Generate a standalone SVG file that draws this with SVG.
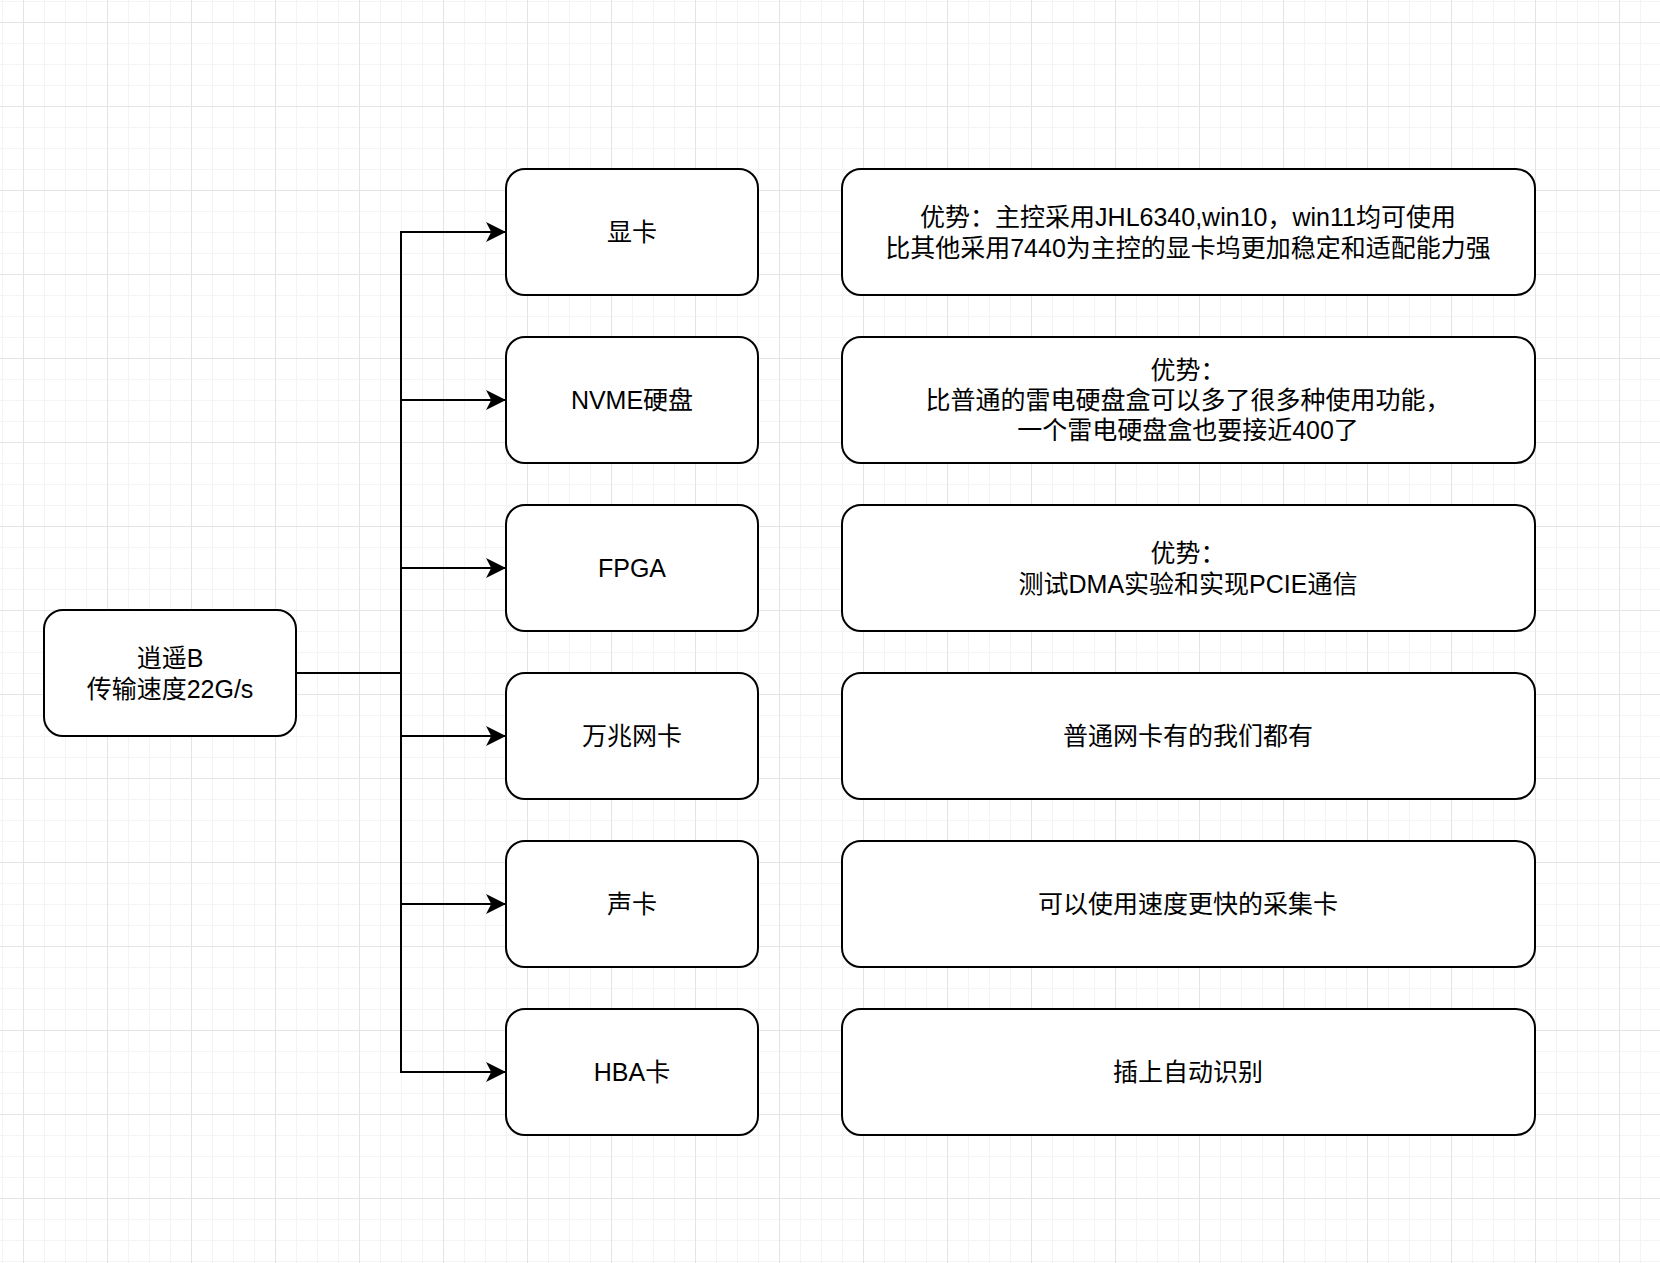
<svg xmlns="http://www.w3.org/2000/svg" width="1660" height="1263" viewBox="0 0 1660 1263">
  <defs>
    <pattern id="grid" patternUnits="userSpaceOnUse" x="23" y="22" width="84" height="84">
      <path d="M21.5,0 V84 M42.5,0 V84 M63.5,0 V84 M0,21.5 H84 M0,42.5 H84 M0,63.5 H84" stroke="#f4f4f4" stroke-width="1" fill="none"/>
      <path d="M0.5,0 V84 M0,0.5 H84" stroke="#e4e4e4" stroke-width="1" fill="none"/>
    </pattern>
    <marker id="arrow" markerUnits="userSpaceOnUse" markerWidth="20" markerHeight="20" viewBox="0 0 18 18" refX="18" refY="9" orient="auto">
      <path d="M0,0 L18,9 L0,18 L4.7,9 Z" fill="#000"/>
    </marker>
    <style>
      .box { fill: #ffffff; stroke: #000000; stroke-width: 2; }
      .lbl { font-family: "Liberation Sans", "Noto Sans CJK SC", sans-serif; font-size: 25px; fill: #000000; text-anchor: middle; }
      .wire { fill: none; stroke: #000000; stroke-width: 2; }
    </style>
  </defs>
  <rect x="0" y="0" width="1660" height="1263" fill="#ffffff"/>
  <rect x="0" y="0" width="1660" height="1263" fill="url(#grid)"/>

  <g id="connectors">
    <path class="wire" d="M296,673 H401"/>
    <path class="wire" d="M401,673 V232 H506" marker-end="url(#arrow)"/>
    <path class="wire" d="M401,400 H506" marker-end="url(#arrow)"/>
    <path class="wire" d="M401,568 H506" marker-end="url(#arrow)"/>
    <path class="wire" d="M401,736 H506" marker-end="url(#arrow)"/>
    <path class="wire" d="M401,904 H506" marker-end="url(#arrow)"/>
    <path class="wire" d="M401,673 V1072 H506" marker-end="url(#arrow)"/>
  </g>

  <g id="node-root">
    <rect class="box" x="44" y="610" width="252" height="126" rx="19"/>
    <text class="lbl" x="170" y="667">逍遥B</text>
    <text class="lbl" x="170" y="698">传输速度22G/s</text>
  </g>

  <g id="node-gpu">
    <rect class="box" x="506" y="169" width="252" height="126" rx="19"/>
    <text class="lbl" x="632" y="241">显卡</text>
  </g>
  <g id="node-nvme">
    <rect class="box" x="506" y="337" width="252" height="126" rx="19"/>
    <text class="lbl" x="632" y="409">NVME硬盘</text>
  </g>
  <g id="node-fpga">
    <rect class="box" x="506" y="505" width="252" height="126" rx="19"/>
    <text class="lbl" x="632" y="577">FPGA</text>
  </g>
  <g id="node-nic">
    <rect class="box" x="506" y="673" width="252" height="126" rx="19"/>
    <text class="lbl" x="632" y="745">万兆网卡</text>
  </g>
  <g id="node-sound">
    <rect class="box" x="506" y="841" width="252" height="126" rx="19"/>
    <text class="lbl" x="632" y="913">声卡</text>
  </g>
  <g id="node-hba">
    <rect class="box" x="506" y="1009" width="252" height="126" rx="19"/>
    <text class="lbl" x="632" y="1081">HBA卡</text>
  </g>

  <g id="desc-gpu">
    <rect class="box" x="842" y="169" width="693" height="126" rx="19"/>
    <text class="lbl" x="1188" y="226">优势：主控采用JHL6340,win10，win11均可使用</text>
    <text class="lbl" x="1188" y="257">比其他采用7440为主控的显卡坞更加稳定和适配能力强</text>
  </g>
  <g id="desc-nvme">
    <rect class="box" x="842" y="337" width="693" height="126" rx="19"/>
    <text class="lbl" x="1188" y="379">优势：</text>
    <text class="lbl" x="1188" y="409">比普通的雷电硬盘盒可以多了很多种使用功能，</text>
    <text class="lbl" x="1188" y="439">一个雷电硬盘盒也要接近400了</text>
  </g>
  <g id="desc-fpga">
    <rect class="box" x="842" y="505" width="693" height="126" rx="19"/>
    <text class="lbl" x="1188" y="562">优势：</text>
    <text class="lbl" x="1188" y="593">测试DMA实验和实现PCIE通信</text>
  </g>
  <g id="desc-nic">
    <rect class="box" x="842" y="673" width="693" height="126" rx="19"/>
    <text class="lbl" x="1188" y="745">普通网卡有的我们都有</text>
  </g>
  <g id="desc-sound">
    <rect class="box" x="842" y="841" width="693" height="126" rx="19"/>
    <text class="lbl" x="1188" y="913">可以使用速度更快的采集卡</text>
  </g>
  <g id="desc-hba">
    <rect class="box" x="842" y="1009" width="693" height="126" rx="19"/>
    <text class="lbl" x="1188" y="1081">插上自动识别</text>
  </g>
</svg>
